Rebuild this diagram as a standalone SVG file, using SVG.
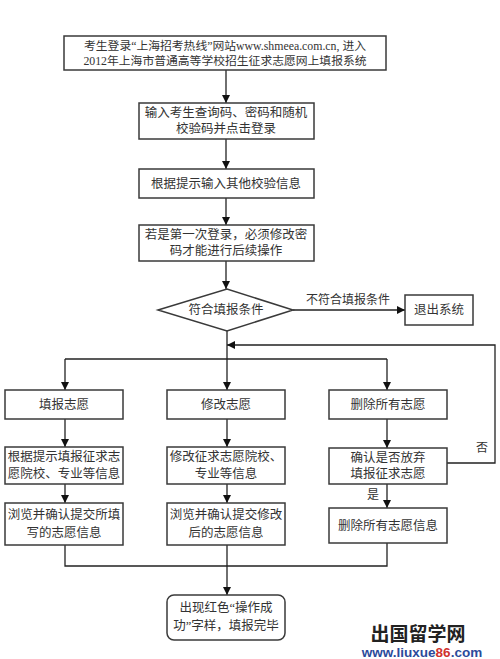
<svg xmlns="http://www.w3.org/2000/svg" width="500" height="659" viewBox="0 0 500 659">
<style>
.box{fill:#fff;stroke:#3a3a3a;stroke-width:1.5}
.ln{fill:none;stroke:#222;stroke-width:1.3}
.t{font-family:"Liberation Serif","Noto Sans CJK SC",serif;font-size:12.5px;fill:#333;text-anchor:middle;dominant-baseline:central}
.lbl{font-family:"Liberation Serif","Noto Sans CJK SC",serif;font-size:12px;fill:#333;text-anchor:middle;dominant-baseline:central}
</style>
<defs>
<marker id="ar" viewBox="0 0 10 10" refX="10" refY="5" markerWidth="8" markerHeight="10" markerUnits="userSpaceOnUse" orient="auto">
<path d="M0,0 L10,5 L0,10 Z" fill="#111"/>
</marker>
</defs>
<rect width="500" height="659" fill="#fff"/>
<g id="connectors">
<line class="ln" x1="226" y1="70" x2="226" y2="103" marker-end="url(#ar)"/>
<line class="ln" x1="226" y1="139" x2="226" y2="169" marker-end="url(#ar)"/>
<line class="ln" x1="226" y1="198" x2="226" y2="225" marker-end="url(#ar)"/>
<line class="ln" x1="226" y1="261" x2="226" y2="289" marker-end="url(#ar)"/>
<line class="ln" x1="293" y1="310" x2="405" y2="310" marker-end="url(#ar)"/>
<text class="lbl" x="348" y="300">不符合填报条件</text>
<polyline class="ln" points="447,463 495,463 495,345 227,345" marker-end="url(#ar)"/>
<text class="lbl" x="482" y="448">否</text>
<line class="ln" x1="227" y1="331" x2="227" y2="390" marker-end="url(#ar)"/>
<line class="ln" x1="65" y1="359" x2="387" y2="359"/>
<line class="ln" x1="65" y1="359" x2="65" y2="390" marker-end="url(#ar)"/>
<line class="ln" x1="387" y1="359" x2="387" y2="390" marker-end="url(#ar)"/>
<line class="ln" x1="65" y1="419" x2="65" y2="447" marker-end="url(#ar)"/>
<line class="ln" x1="65" y1="484" x2="65" y2="503" marker-end="url(#ar)"/>
<line class="ln" x1="227" y1="419" x2="227" y2="447" marker-end="url(#ar)"/>
<line class="ln" x1="227" y1="484" x2="227" y2="503" marker-end="url(#ar)"/>
<line class="ln" x1="387" y1="419" x2="387" y2="448" marker-end="url(#ar)"/>
<line class="ln" x1="387" y1="484" x2="387" y2="508" marker-end="url(#ar)"/>
<text class="lbl" x="373" y="495">是</text>
<polyline class="ln" points="65,545 65,566 387,566 387,543"/>
<line class="ln" x1="227" y1="545" x2="227" y2="595" marker-end="url(#ar)"/>
</g>
<g id="n-login">
<rect class="box" x="64" y="36" width="322" height="34"/>
<text class="t" x="225" y="46" style="font-size:11.8px">考生登录“上海招考热线”网站www.shmeea.com.cn, 进入</text>
<text class="t" x="225" y="61" style="font-size:11.8px">2012年上海市普通高等学校招生征求志愿网上填报系统</text>
</g>
<g id="n-input">
<rect class="box" x="139" y="103" width="175" height="36"/>
<text class="t" x="226" y="113">输入考生查询码、密码和随机</text>
<text class="t" x="226" y="129">校验码并点击登录</text>
</g>
<g id="n-verify">
<rect class="box" x="139" y="169" width="175" height="29"/>
<text class="t" x="226" y="183.5">根据提示输入其他校验信息</text>
</g>
<g id="n-first">
<rect class="box" x="139" y="225" width="175" height="36"/>
<text class="t" x="226" y="235">若是第一次登录，必须修改密</text>
<text class="t" x="226" y="251">码才能进行后续操作</text>
</g>
<g id="n-cond">
<polygon class="box" points="158,310 227,289 293,310 227,331"/>
<text class="t" x="226" y="310">符合填报条件</text>
</g>
<g id="n-exit">
<rect class="box" x="405" y="295" width="68" height="30"/>
<text class="t" x="439" y="310">退出系统</text>
</g>
<g id="n-fill">
<rect class="box" x="5" y="390" width="118" height="29"/>
<text class="t" x="64" y="404.5">填报志愿</text>
</g>
<g id="n-fill2">
<rect class="box" x="5" y="447" width="118" height="37"/>
<text class="t" x="64" y="457">根据提示填报征求志</text>
<text class="t" x="64" y="474">愿院校、专业等信息</text>
</g>
<g id="n-fill3">
<rect class="box" x="5" y="503" width="118" height="42"/>
<text class="t" x="64" y="515">浏览并确认提交所填</text>
<text class="t" x="64" y="533">写的志愿信息</text>
</g>
<g id="n-mod">
<rect class="box" x="167" y="390" width="118" height="29"/>
<text class="t" x="226" y="404.5">修改志愿</text>
</g>
<g id="n-mod2">
<rect class="box" x="167" y="447" width="118" height="37"/>
<text class="t" x="226" y="457">修改征求志愿院校、</text>
<text class="t" x="226" y="474">专业等信息</text>
</g>
<g id="n-mod3">
<rect class="box" x="167" y="503" width="118" height="42"/>
<text class="t" x="226" y="515">浏览并确认提交修改</text>
<text class="t" x="226" y="533">后的志愿信息</text>
</g>
<g id="n-del">
<rect class="box" x="329" y="390" width="118" height="29"/>
<text class="t" x="388" y="404.5">删除所有志愿</text>
</g>
<g id="n-del2">
<rect class="box" x="329" y="448" width="118" height="36"/>
<text class="t" x="388" y="458">确认是否放弃</text>
<text class="t" x="388" y="474">填报征求志愿</text>
</g>
<g id="n-del3">
<rect class="box" x="329" y="508" width="118" height="35"/>
<text class="t" x="388" y="525.5">删除所有志愿信息</text>
</g>
<g id="n-done">
<rect class="box" x="167" y="595" width="118" height="45" rx="7"/>
<text class="t" x="226" y="608">出现红色“操作成</text>
<text class="t" x="226" y="626">功”字样，填报完毕</text>
</g>
<g id="watermark">
<text x="418" y="632" style="font-family:'Noto Sans CJK SC',sans-serif;font-size:19px;font-weight:bold;fill:#222;text-anchor:middle;dominant-baseline:central">出国留学网</text>
<text x="422" y="652" style="font-family:'Liberation Sans',Arial,sans-serif;font-size:13.5px;font-weight:bold;fill:#2b4b9b;text-anchor:middle;dominant-baseline:central">www.liuxue<tspan fill="#d0312d">86</tspan>.com</text>
</g>
</svg>
